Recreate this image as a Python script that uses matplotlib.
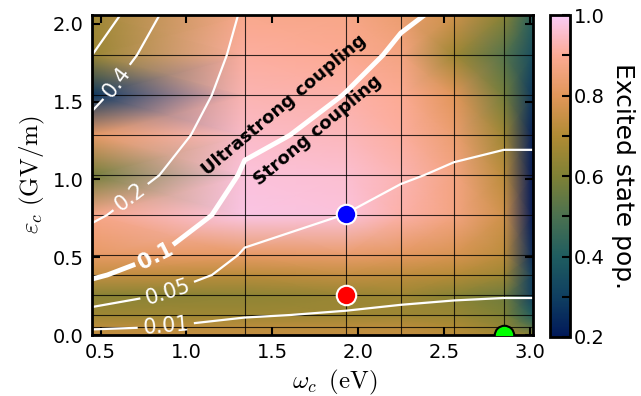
import numpy as np
import matplotlib
matplotlib.use('Agg')
import matplotlib.pyplot as plt
from matplotlib.colors import LinearSegmentedColormap

plt.rcParams['mathtext.fontset'] = 'cm'
plt.rcParams['font.size'] = 14

# simulation grid: cavity frequency (eV) and field amplitude (GV/m)
omega = [0.45, 1.34, 1.93, 2.25, 2.56, 2.85, 3.02]
field = [0.0, 0.0514, 0.1286, 0.257, 0.386, 0.514, 0.771, 1.028, 1.285, 1.542, 1.80, 2.057]

# excited state population on the grid, rows = field (bottom->top), cols = omega
pop = [
    [0.74, 0.74, 0.74, 0.74, 0.72, 0.68, 0.62],
    [0.72, 0.72, 0.72, 0.72, 0.70, 0.64, 0.52],
    [0.66, 0.66, 0.66, 0.66, 0.65, 0.60, 0.40],
    [0.62, 0.63, 0.65, 0.66, 0.62, 0.57, 0.30],
    [0.74, 0.72, 0.74, 0.73, 0.71, 0.66, 0.30],
    [0.82, 0.82, 0.83, 0.81, 0.78, 0.72, 0.25],
    [0.88, 0.98, 0.97, 0.92, 0.87, 0.76, 0.20],
    [0.58, 0.97, 0.96, 0.93, 0.87, 0.72, 0.20],
    [0.82, 0.95, 0.94, 0.91, 0.84, 0.66, 0.22],
    [0.28, 0.93, 0.92, 0.90, 0.80, 0.58, 0.28],
    [0.65, 0.91, 0.90, 0.87, 0.66, 0.52, 0.35],
    [0.66, 0.89, 0.88, 0.84, 0.76, 0.62, 0.42],
]

# coupling ratio g/omega per GV/m for each omega column
ratio_per_field = [0.278, 0.089, 0.064, 0.0515, 0.045, 0.042, 0.042]

thin_levels = [0.01, 0.05, 0.2, 0.4, 0.5]
thick_levels = [0.1]

pts_omega = [1.93, 1.93, 2.85]
pts_field = [0.78, 0.257, 0.0]
pts_color = ['#0000ff', '#ff0000', '#00ff00']
pts_edge = ['white', 'white', 'black']

batlow = LinearSegmentedColormap.from_list('batlow', [
    '#011959', '#0f3f61', '#1f5d60', '#4b7150', '#7f8135',
    '#b18b34', '#e19659', '#fcaa93', '#facbf7'])

W, E = np.meshgrid(omega, field)
ratio = np.outer(field, ratio_per_field)

fig = plt.figure(figsize=(6.41, 3.96), dpi=100)
ax = fig.add_axes([0.1435, 0.154, 0.688, 0.808])
cax = fig.add_axes([0.858, 0.149, 0.031, 0.813])

mesh = ax.pcolormesh(W, E, np.array(pop), shading='gouraud', cmap=batlow, vmin=0.2, vmax=1.0)

for x in omega[1:-1]:
    ax.axvline(x, color='k', lw=0.8, alpha=0.8)
for y in field[1:-1]:
    ax.axhline(y, color='k', lw=0.8, alpha=0.8)

cs = ax.contour(W, E, ratio, levels=thin_levels, colors='white', linewidths=1.6)
ax.clabel(cs, fmt='%g', fontsize=15, colors='white', inline=True,
          manual=[(0.607, 1.616), (0.684, 0.874), (0.889, 0.283), (0.88, 0.06)])
cs2 = ax.contour(W, E, ratio, levels=thick_levels, colors='white', linewidths=3.5)
lbl2 = ax.clabel(cs2, fmt='%g', fontsize=15, colors='white', inline=True, manual=[(0.81, 0.53)])
for t in lbl2:
    t.set_fontweight('bold')

ax.text(1.57, 1.477, 'Ultrastrong coupling', rotation=40, ha='center', va='center',
        fontsize=13, fontweight='bold', rotation_mode='anchor')
ax.text(1.764, 1.315, 'Strong coupling', rotation=40, ha='center', va='center',
        fontsize=13, fontweight='bold', rotation_mode='anchor')

for x, y, c, ec in zip(pts_omega, pts_field, pts_color, pts_edge):
    ax.plot(x, y, 'o', ms=14, mfc=c, mec=ec, mew=1.5, zorder=5)

ax.set_xlim(omega[0], omega[-1])
ax.set_ylim(field[0], field[-1])
ax.set_xticks([0.5, 1.0, 1.5, 2.0, 2.5, 3.0])
ax.set_yticks([0.0, 0.5, 1.0, 1.5, 2.0])
ax.tick_params(direction='in', length=6, width=1.5, top=True, right=True, labelsize=14, pad=6)
for s in ax.spines.values():
    s.set_linewidth(2)
ax.set_xlabel(r'$\omega_c\;\;\mathrm{(eV)}$', fontsize=18)
ax.xaxis.set_label_coords(0.551, -0.103)
ax.set_ylabel(r'$\varepsilon_c\ \mathrm{(GV/m)}$', fontsize=18, labelpad=4)

cb = fig.colorbar(mesh, cax=cax)
cb.set_ticks(np.arange(0.2, 1.01, 0.1))
cb.set_ticklabels(['0.2', '', '0.4', '', '0.6', '', '0.8', '', '1.0'])
cb.ax.tick_params(direction='in', length=6, width=1.5, labelsize=14, pad=3)
cb.outline.set_linewidth(2)
cb.set_label('Excited state pop.', rotation=270, fontsize=18, labelpad=22)

fig.savefig('out.png', dpi=100)
